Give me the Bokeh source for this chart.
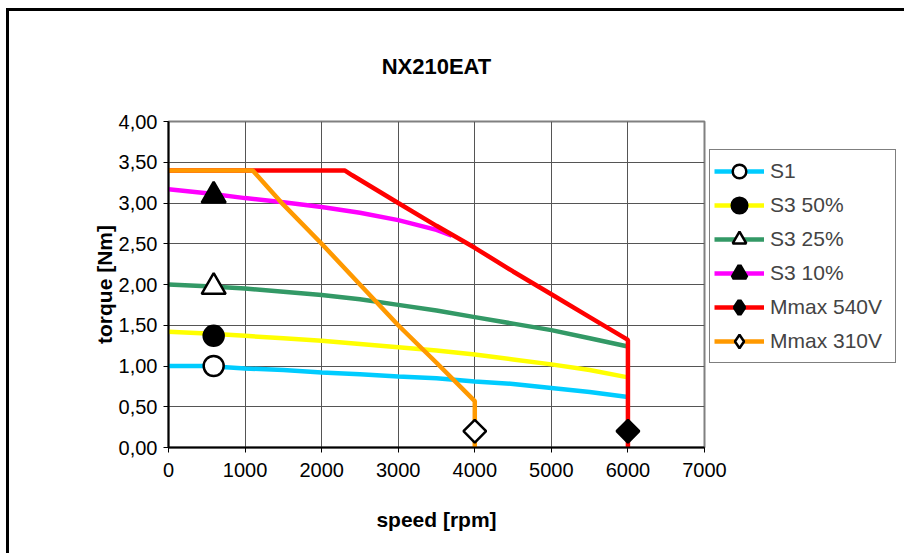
import math
from bokeh.plotting import figure
from bokeh.models import (Range1d, FixedTicker, CustomJSTickFormatter, Legend, LegendItem,
                          LinearAxis, InlineStyleSheet)
from bokeh.embed import file_html
from bokeh.resources import INLINE

# ---------------- data ----------------
title_text = "NX210EAT"
x_label = "speed [rpm]"
y_label = "torque [Nm]"
x_ticks = [0, 1000, 2000, 3000, 4000, 5000, 6000, 7000]
y_ticks = [0.0, 0.5, 1.0, 1.5, 2.0, 2.5, 3.0, 3.5, 4.0]

s1_speed = [0, 500, 1000, 1500, 2000, 2500, 3000, 3500, 4000, 4500, 5000, 5500, 6000]
s1_torque = [1.00, 1.00, 0.97, 0.95, 0.92, 0.90, 0.87, 0.85, 0.81, 0.78, 0.73, 0.68, 0.62]

s3_50_speed = [0, 500, 1000, 1500, 2000, 2500, 3000, 3500, 4000, 4500, 5000, 5500, 6000]
s3_50_torque = [1.42, 1.40, 1.37, 1.34, 1.31, 1.27, 1.23, 1.19, 1.14, 1.08, 1.02, 0.95, 0.86]

s3_25_speed = [0, 500, 1000, 1500, 2000, 2500, 3000, 3500, 4000, 4500, 5000, 5500, 6000]
s3_25_torque = [2.00, 1.98, 1.95, 1.91, 1.87, 1.82, 1.75, 1.68, 1.60, 1.52, 1.44, 1.34, 1.24]

s3_10_speed = [0, 500, 1000, 1500, 2000, 2500, 3000, 3500, 3700]
s3_10_torque = [3.17, 3.12, 3.06, 3.01, 2.95, 2.88, 2.79, 2.67, 2.60]

m540_speed = [0, 2300, 2400, 3000, 3500, 4000, 4500, 5000, 5500, 6000, 6000]
m540_torque = [3.40, 3.40, 3.34, 3.00, 2.72, 2.45, 2.16, 1.88, 1.60, 1.32, 0.0]

m310_speed = [0, 1100, 1500, 2000, 2500, 3000, 3500, 4000, 4000]
m310_torque = [3.40, 3.40, 2.98, 2.50, 2.00, 1.50, 1.04, 0.57, 0.0]

# single marker points
mk_s1 = ([590], [1.00])
mk_s3_50 = ([590], [1.37])
mk_s3_25 = ([590], [1.97])
mk_s3_10 = ([590], [3.09])
mk_m540 = ([6000], [0.20])
mk_m310 = ([4000], [0.20])

names = ["S1", "S3 50%", "S3 25%", "S3 10%", "Mmax 540V", "Mmax 310V"]
colors = ["#00CCFF", "#FFFF00", "#339966", "#FF00FF", "#FF0000", "#FF9900"]

FONT = "Liberation Sans"

p = figure(frame_width=536, frame_height=326, output_backend="svg", toolbar_location=None,
           x_range=Range1d(0, 7000), y_range=Range1d(0, 4),
           min_border_left=168, min_border_right=200, min_border_top=121,
           min_border_bottom=106)
p.background_fill_color = "white"
p.border_fill_color = "white"
p.outline_line_color = "#808080"
p.outline_line_width = 2

for ax in (p.xaxis, p.yaxis):
    ax.axis_line_color = "black"
    ax.axis_line_width = 2
    ax.major_tick_line_color = "black"
    ax.major_tick_in = 0
    ax.major_tick_out = 5
    ax.minor_tick_line_color = None
    ax.major_label_text_font = FONT
    ax.major_label_text_font_size = "20px"
    ax.major_label_text_color = "black"
    ax.axis_label_text_font = FONT
    ax.axis_label_text_font_size = "21px"
    ax.axis_label_text_font_style = "bold"
    ax.axis_label_text_color = "black"

p.xaxis.ticker = FixedTicker(ticks=x_ticks)
p.yaxis.ticker = FixedTicker(ticks=y_ticks)
p.yaxis.formatter = CustomJSTickFormatter(code="return tick.toFixed(2).replace('.', ',');")
p.xaxis.major_label_standoff = 10
p.yaxis.major_label_standoff = 6
p.xaxis.axis_label = x_label
p.yaxis.axis_label = y_label
p.xaxis.axis_label_standoff = 28
p.yaxis.axis_label_standoff = 0

# title drawn as the label of an empty axis above the frame
tax = LinearAxis(axis_label=title_text, axis_line_color=None, major_tick_line_color=None,
                 minor_tick_line_color=None, major_label_text_font_size="0px",
                 ticker=FixedTicker(ticks=[]))
tax.axis_label_text_font = FONT
tax.axis_label_text_font_size = "22px"
tax.axis_label_text_font_style = "bold"
tax.axis_label_text_color = "black"
tax.axis_label_standoff = 43
p.add_layout(tax, "above")

p.grid.grid_line_color = "#555555"
p.grid.grid_line_width = 1
p.xgrid.ticker = FixedTicker(ticks=x_ticks)
p.ygrid.ticker = FixedTicker(ticks=y_ticks)

series = [
    (s1_speed, s1_torque, mk_s1, "circle", False),
    (s3_50_speed, s3_50_torque, mk_s3_50, "circle", True),
    (s3_25_speed, s3_25_torque, mk_s3_25, "triangle", False),
    (s3_10_speed, s3_10_torque, mk_s3_10, "triangle", True),
    (m540_speed, m540_torque, mk_m540, "square", True),
    (m310_speed, m310_torque, mk_m310, "square", False),
]
sizes = {"circle": 20, "triangle": 24, "square": 16}
legend_shape = {"circle": "circle", "triangle": "triangle", "square": "diamond"}

line_rs = []
for (sx, sy, mk, shape, filled), col in zip(series, colors):
    line_rs.append(p.line(sx, sy, line_color=col, line_width=4.5))

nan = float("nan")
items = []
for (sx, sy, mk, shape, filled), col, nm, lr in zip(series, colors, names, line_rs):
    fc = "black" if filled else "white"
    p.scatter(mk[0], mk[1], marker=shape, size=sizes[shape],
              angle=math.pi / 4 if shape == "square" else 0.0,
              fill_color=fc, line_color="black", line_width=2.5)
    # legend proxy (no visible point on the chart)
    proxy = p.scatter([nan], [nan], marker=legend_shape[shape], size=10,
                      fill_color=fc, line_color="black",
                      line_width=4.5 if filled else 2.5)
    items.append(LegendItem(label=nm, renderers=[lr, proxy]))

legend = Legend(items=items, location=(5, 84))
legend.border_line_color = "black"
legend.border_line_width = 1.5
legend.background_fill_color = "white"
legend.background_fill_alpha = 1
legend.label_text_font = FONT
legend.label_text_font_size = "21px"
legend.glyph_width = 50
legend.glyph_height = 34
legend.label_height = 34
legend.label_width = 121
legend.spacing = 0
legend.padding = 4
legend.label_standoff = 6
legend.margin = 0
p.add_layout(legend, "right")

p.stylesheets = [InlineStyleSheet(css=":host::after { content: ''; position: absolute; "
                                      "left: 6px; top: 8px; width: calc(100% - 6px); "
                                      "height: calc(100% - 8px); border-left: 3px solid black; "
                                      "border-top: 3px solid black; box-sizing: border-box; "
                                      "pointer-events: none; z-index: 10; }")]

open("out.html", "w").write(file_html(p, INLINE))
